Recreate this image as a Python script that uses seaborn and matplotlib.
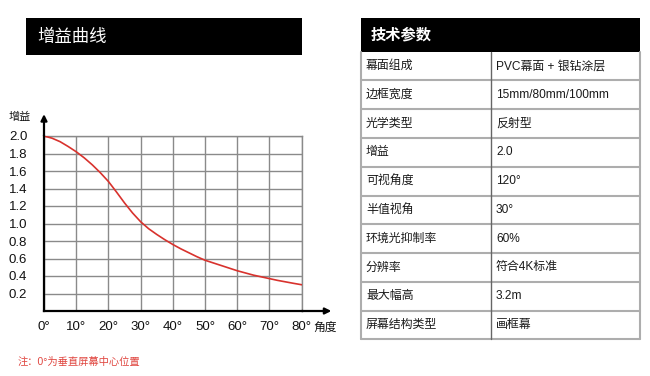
import matplotlib
matplotlib.use("Agg")
import matplotlib.pyplot as plt
import seaborn as sns
import pandas as pd
from matplotlib.patches import Rectangle

# ---- data ----
angles = [0, 2.5, 5, 7.5, 10, 12.5, 15, 17.5, 20, 22.5, 25, 27.5, 30, 32.5, 35, 37.5, 40,
          42.5, 45, 47.5, 50, 52.5, 55, 57.5, 60, 62.5, 65, 67.5, 70, 72.5, 75, 77.5, 80]
gains = [2.0, 1.975, 1.935, 1.88, 1.82, 1.75, 1.67, 1.58, 1.48, 1.36, 1.235, 1.12, 1.02, 0.94,
         0.875, 0.815, 0.76, 0.71, 0.665, 0.62, 0.58, 0.55, 0.52, 0.49, 0.46, 0.435, 0.41, 0.39,
         0.37, 0.35, 0.333, 0.316, 0.30]
x_ticks = [0, 10, 20, 30, 40, 50, 60, 70, 80]
x_labels = ["0°", "10°", "20°", "30°", "40°", "50°", "60°", "70°", "80°"]
y_ticks = [0.2, 0.4, 0.6, 0.8, 1.0, 1.2, 1.4, 1.6, 1.8, 2.0]
y_labels = ["0.2", "0.4", "0.6", "0.8", "1.0", "1.2", "1.4", "1.6", "1.8", "2.0"]
chart_title = "增益曲线"
table_title = "技术参数"
param_names = ["幕面组成", "边框宽度", "光学类型", "增益", "可视角度", "半值视角",
               "环境光抑制率", "分辨率", "最大幅高", "屏幕结构类型"]
param_values = ["PVC幕面 + 银钻涂层", "15mm/80mm/100mm", "反射型", "2.0", "120°", "30°",
                "60%", "符合4K标准", "3.2m", "画框幕"]
note = "注：0°为垂直屏幕中心位置"

sns.set_theme(style="white")
plt.rcParams['font.family'] = ['Liberation Sans', 'Noto Sans CJK SC']

W, H = 650, 376
fig = plt.figure(figsize=(W / 100, H / 100), dpi=100)

# overlay axes in pixel coordinates for decorations
ov = fig.add_axes([0, 0, 1, 1], zorder=0)
ov.set_xlim(0, W)
ov.set_ylim(H, 0)
ov.axis("off")
ov.patch.set_visible(False)

# chart title bar
ov.add_patch(Rectangle((26, 18), 276, 37, facecolor="black", edgecolor="none"))
ov.text(37, 37, chart_title, color="white", fontsize=12.5, va="center", ha="left")

# table
tx0, tx1, tdiv = 361, 640, 491
hy0, hy1 = 18, 51.7
row_h = (339.3 - hy1) / len(param_names)
ov.add_patch(Rectangle((tx0, hy0), tx1 - tx0, hy1 - hy0, facecolor="black", edgecolor="none"))
ov.text(371, (hy0 + hy1) / 2 + 0.5, table_title, color="white", fontsize=11,
        fontweight="bold", va="center", ha="left")
grid_c = "#adadad"
for i, (n, v) in enumerate(zip(param_names, param_values)):
    y0 = hy1 + i * row_h
    yc = y0 + row_h / 2
    ov.text(366, yc, n, fontsize=8.6, color="#1a1a1a", va="center", ha="left")
    ov.text(496, yc, v, fontsize=8.6, color="#1a1a1a", va="center", ha="left")
    ov.plot([tx0, tx1], [y0 + row_h, y0 + row_h], color=grid_c, lw=1.5)
ov.plot([tx0, tx0], [hy1, 339.3], color=grid_c, lw=1.5)
ov.plot([tx1, tx1], [hy1, 339.3], color=grid_c, lw=1.5)
ov.plot([tdiv, tdiv], [hy1, 339.3], color="#666666", lw=1.0)

# note
ov.text(18, 362, note, color="#e0453f", fontsize=7.4, va="center", ha="left")

# ---- chart ----
left, right, top, bottom = 44, 301.7, 136, 311
ax = fig.add_axes([left / W, 1 - bottom / H, (right - left) / W, (bottom - top) / H], zorder=2)
ax.patch.set_visible(False)
df = pd.DataFrame({"angle": angles, "gain": gains})
sns.lineplot(data=df, x="angle", y="gain", ax=ax, color="#d8322d", lw=1.2, zorder=3)
ax.set_xlim(0, 80)
ax.set_ylim(0, 2.0)
ax.set_xticks(x_ticks)
ax.set_xticklabels(x_labels)
ax.set_yticks(y_ticks)
ax.set_yticklabels(y_labels)
ax.set_xlabel("")
ax.set_ylabel("")
ax.grid(True, color="#8a8a8a", lw=1.0)
ax.tick_params(axis="both", length=0, labelsize=9.5, colors="#111111")
ax.tick_params(axis="x", pad=7)
ax.tick_params(axis="y", pad=12)
for s in ["top", "right"]:
    ax.spines[s].set_color("#8a8a8a")
    ax.spines[s].set_linewidth(1.0)
for s in ["left", "bottom"]:
    ax.spines[s].set_color("black")
    ax.spines[s].set_linewidth(1.6)
    ax.spines[s].set_zorder(4)

# axis arrows
ax.annotate("", xy=(1.115, 0), xytext=(1.0, 0), xycoords="axes fraction",
            arrowprops=dict(arrowstyle="-|>", color="black", lw=1.6, mutation_scale=9,
                            shrinkA=0, shrinkB=0), annotation_clip=False)
ax.annotate("", xy=(0, 1.125), xytext=(0, 1.0), xycoords="axes fraction",
            arrowprops=dict(arrowstyle="-|>", color="black", lw=1.6, mutation_scale=9,
                            shrinkA=0, shrinkB=0), annotation_clip=False)
ax.text(1.045, -0.095, "角度", transform=ax.transAxes, fontsize=8.5, va="center", ha="left",
        color="#111111")
ax.text(-0.05, 1.11, "增益", transform=ax.transAxes, fontsize=8, va="center", ha="right",
        color="#111111")

fig.savefig("out.png", dpi=100)
